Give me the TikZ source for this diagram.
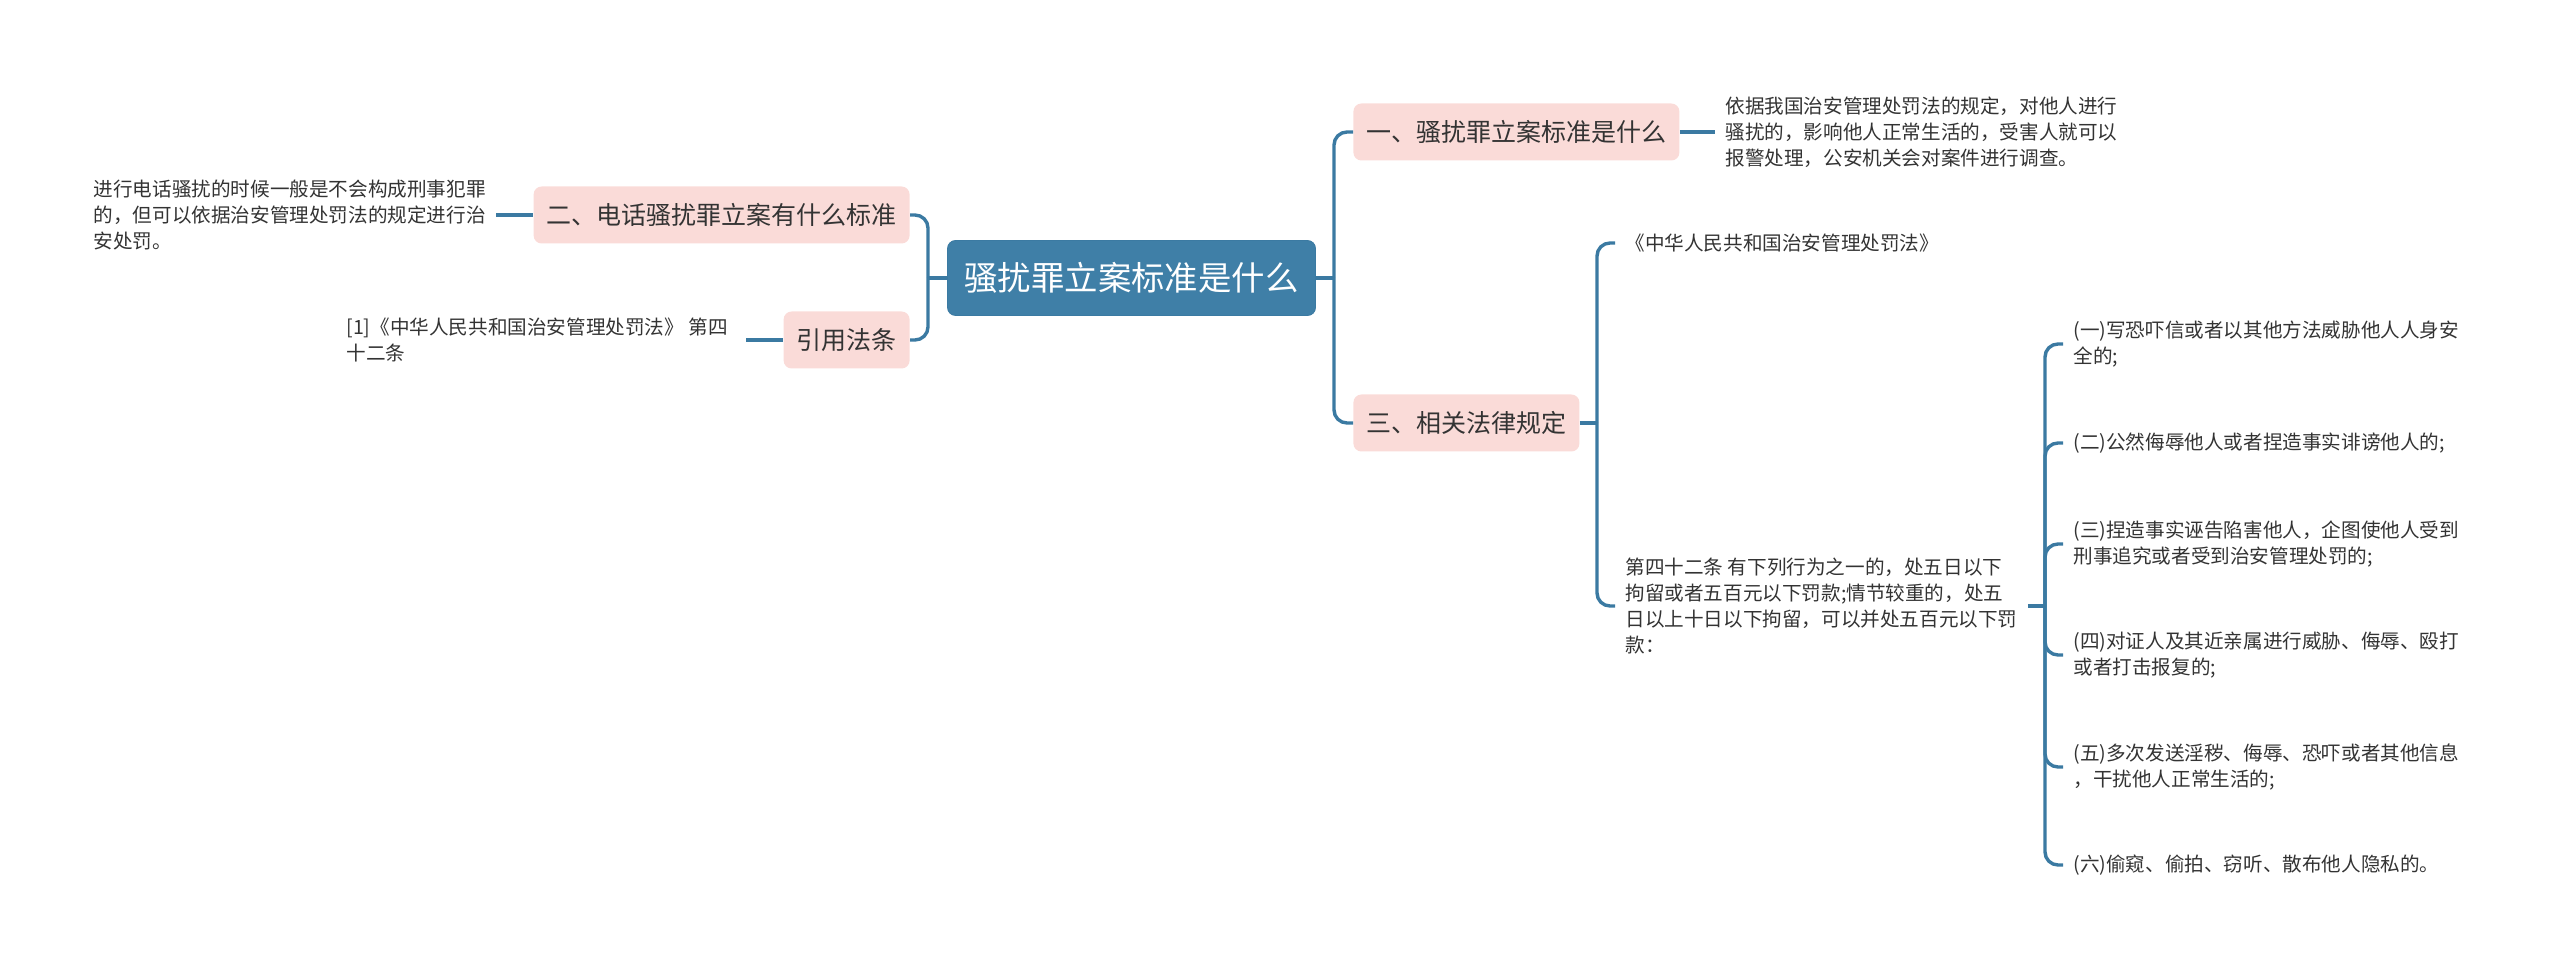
\documentclass[tikz,border=0pt]{standalone}
\usepackage{fontspec}
\setmainfont{Noto Sans CJK SC}
\definecolor{linkblue}{HTML}{3B7AA2}
\definecolor{rootblue}{HTML}{3F7FA7}
\definecolor{topicpink}{HTML}{FADBD8}
\definecolor{textgray}{HTML}{333333}
\begin{document}
\begin{tikzpicture}[x=0.5pt,y=-0.5pt,
  root/.style={draw=linkblue,fill=rootblue,rounded corners=4pt,text=white,font=\fontsize{16.7pt}{20pt}\selectfont,inner xsep=8.5pt,minimum height=37.5pt},
  topic/.style={fill=topicpink,rounded corners=4pt,text=textgray,font=\fontsize{12.5pt}{15pt}\selectfont,inner xsep=6.5pt,minimum height=28.5pt},
  leaf/.style={align=left,text=textgray,font=\fontsize{9.8pt}{13pt}\selectfont,inner xsep=5pt,inner ysep=1pt},
  link/.style={draw=linkblue,line width=1.7pt,rounded corners=6.5pt}]
\useasboundingbox (0,0) rectangle (2560,972);
% centre and main topics
\node[root] (root) at (1131.5,278) {骚扰罪立案标准是什么};
\node[topic,anchor=west] (std) at (1353,132) {一、骚扰罪立案标准是什么};
\node[topic,anchor=west] (law) at (1353,423) {三、相关法律规定};
\node[topic,anchor=east] (phone) at (910,215) {二、电话骚扰罪立案有什么标准};
\node[topic,anchor=east] (cite) at (910,340) {引用法条};
% leaves
\node[leaf,anchor=west] (stdtxt) at (1715,132) {依据我国治安管理处罚法的规定，对他人进行\\骚扰的，影响他人正常生活的，受害人就可以\\报警处理，公安机关会对案件进行调查。};
\node[leaf,anchor=east] (phonetxt) at (496,215) {进行电话骚扰的时候一般是不会构成刑事犯罪\\的，但可以依据治安管理处罚法的规定进行治\\安处罚。};
\node[leaf,anchor=west,inner xsep=9pt] (citetxt) at (328,340) {[1]《中华人民共和国治安管理处罚法》 第四\\十二条};
\node[leaf,anchor=west] (lawname) at (1615,243) {《中华人民共和国治安管理处罚法》};
\node[leaf,anchor=west] (art) at (1615,606) {第四十二条 有下列行为之一的，处五日以下\\拘留或者五百元以下罚款;情节较重的，处五\\日以上十日以下拘留，可以并处五百元以下罚\\款：};
\node[leaf,anchor=west] (it1) at (2063,344) {(一)写恐吓信或者以其他方法威胁他人人身安\\全的;};
\node[leaf,anchor=west] (it2) at (2063,443) {(二)公然侮辱他人或者捏造事实诽谤他人的;};
\node[leaf,anchor=west] (it3) at (2063,544) {(三)捏造事实诬告陷害他人，企图使他人受到\\刑事追究或者受到治安管理处罚的;};
\node[leaf,anchor=west] (it4) at (2063,655) {(四)对证人及其近亲属进行威胁、侮辱、殴打\\或者打击报复的;};
\node[leaf,anchor=west] (it5) at (2063,767) {(五)多次发送淫秽、侮辱、恐吓或者其他信息\\，干扰他人正常生活的;};
\node[leaf,anchor=west] (it6) at (2063,865) {(六)偷窥、偷拍、窃听、散布他人隐私的。};
% junctions
\coordinate (jr) at (1334,278);
\coordinate (jl) at (928,278);
\coordinate (jlaw) at (1597,423);
\coordinate (jart) at (2045,606);
% connectors
\draw[link] (root.east) -- (jr);
\draw[link] (jr) |- (std.west);
\draw[link] (jr) |- (law.west);
\draw[link] (root.west) -- (jl);
\draw[link] (jl) |- (phone.east);
\draw[link] (jl) |- (cite.east);
\draw[link] (std.east) -- (stdtxt.west);
\draw[link] (phonetxt.east) -- (phone.west);
\draw[link] (citetxt.east) -- (cite.west);
\draw[link] (law.east) -- (jlaw);
\draw[link] (jlaw) |- (lawname.west);
\draw[link] (jlaw) |- (art.west);
\draw[link] (art.east) -- (jart);
\foreach \i in {1,...,6} \draw[link] (jart) |- (it\i.west);
\end{tikzpicture}
\end{document}
